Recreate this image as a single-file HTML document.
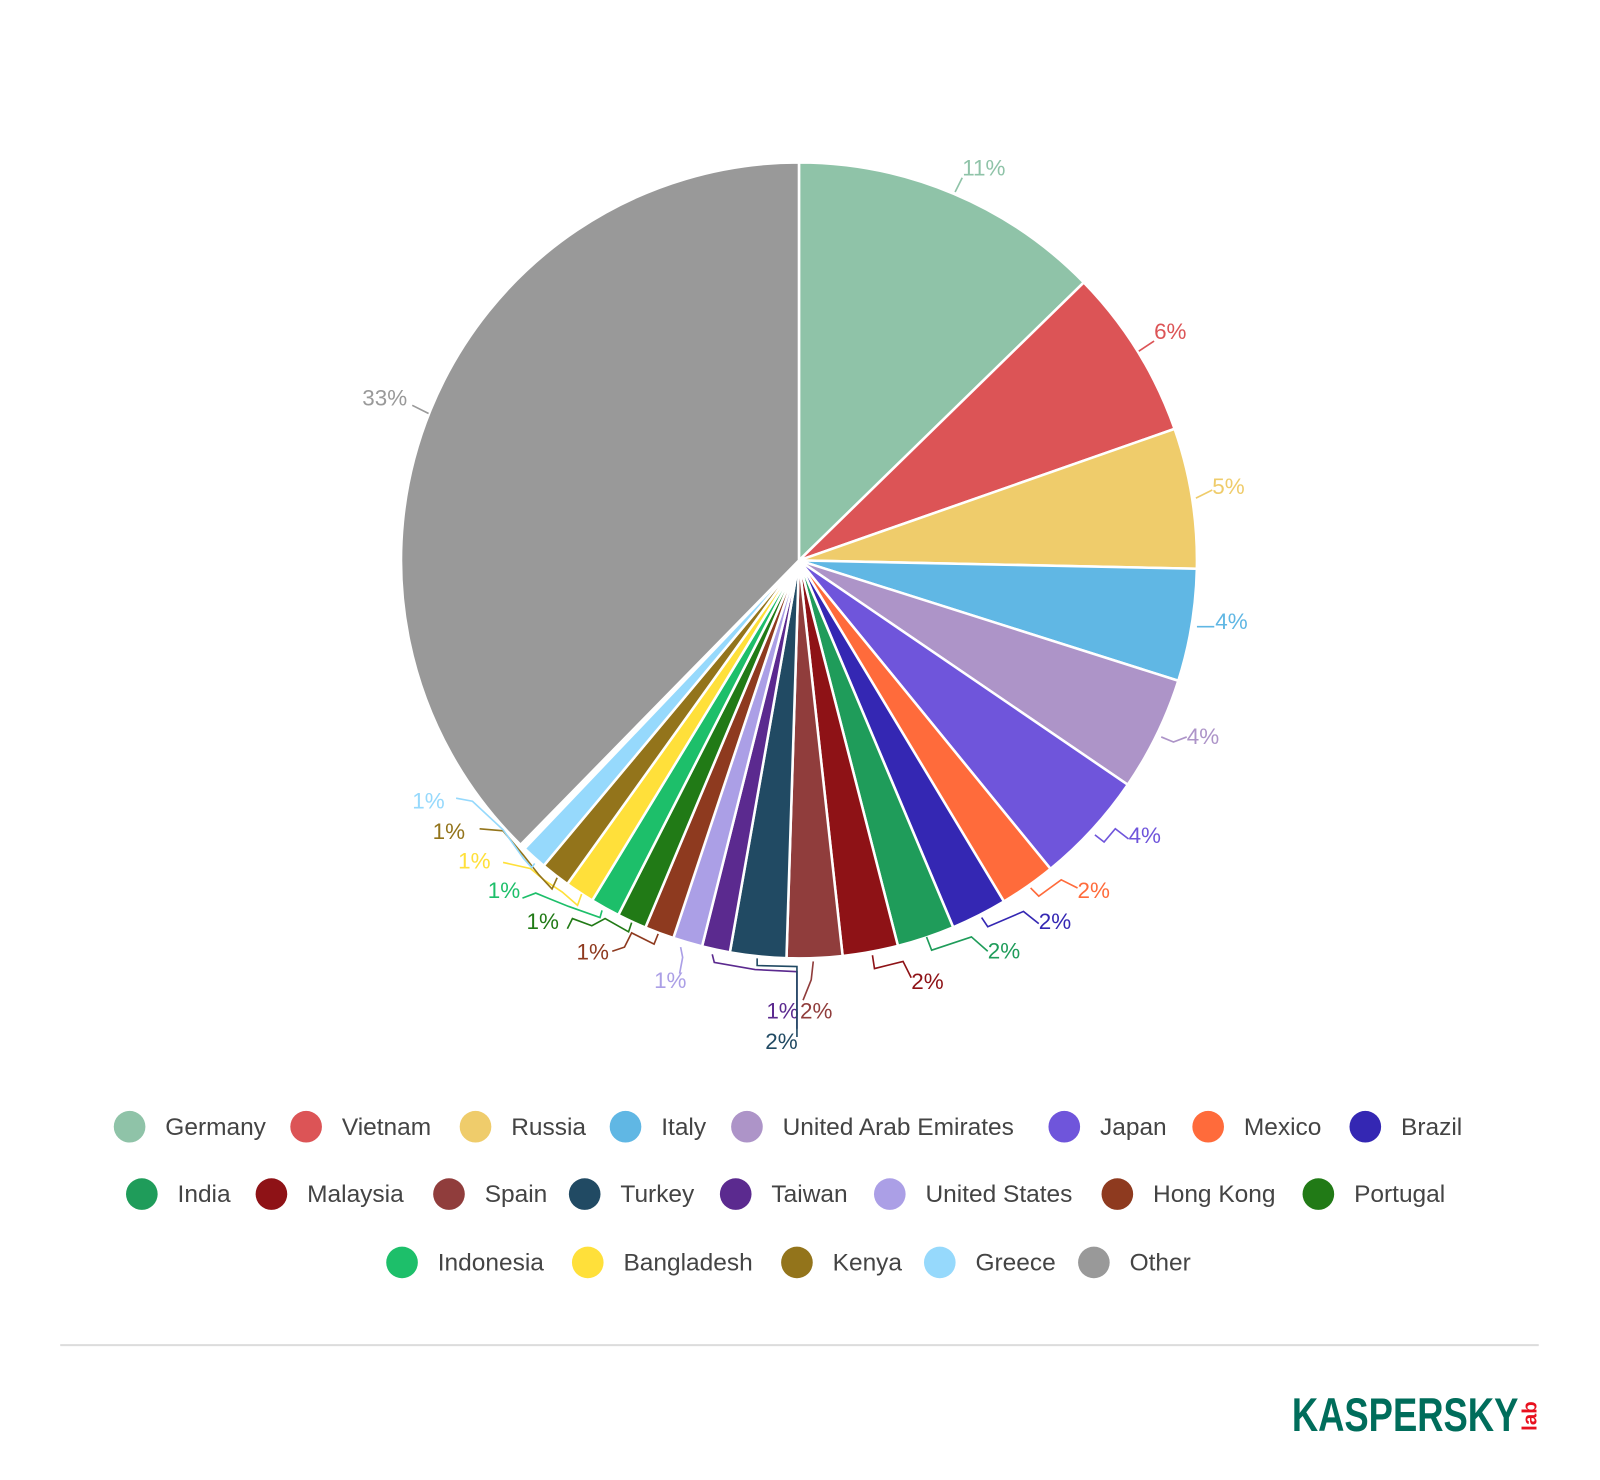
<!DOCTYPE html>
<html><head><meta charset="utf-8">
<style>html,body{margin:0;padding:0;background:#fff}svg{display:block}</style>
</head><body>
<svg id="s" width="1600" height="1480" viewBox="0 0 1568 1450" xmlns="http://www.w3.org/2000/svg" font-family="'Liberation Sans', sans-serif">
<g id="pie"></g>
<g id="lbl" font-size="22"></g>
<g id="leg" font-size="24" fill="#444"></g>
<line x1="59" y1="1318" x2="1508" y2="1318" stroke="#dcdcdc" stroke-width="2"/>
<text x="1266" y="1402" font-size="46" font-weight="bold" fill="#006d5b" textLength="222" lengthAdjust="spacingAndGlyphs">KASPERSKY</text>
<text transform="translate(1506,1402) rotate(-90)" font-size="20" font-weight="bold" fill="#e8101e">lab</text>
</svg>
<script>
var cx=783,cy=549,r=390;
var S=[["Germany","#8fc3a8",0,45.7],["Vietnam","#dc5456",45.7,70.7],["Russia","#efcc6b",70.7,91.2],["Italy","#60b7e4",91.2,107.6],["United Arab Emirates","#ad94c8",107.6,124.3],["Japan","#6f55db",124.3,140.8],["Mexico","#ff6b3b",140.8,149],["Brazil","#3427b3",149,157.2],["India","#1f9c5a",157.2,165.6],["Malaysia","#8e1216",165.6,173.7],["Spain","#903d3c",173.7,181.8],["Turkey","#214a63",181.8,190],["Taiwan","#5b2a8f",190,194.1],["United States","#ab9fe6",194.1,198.4],["Hong Kong","#8e3a1f",198.4,202.7],["Portugal","#217a16",202.7,207],["Indonesia","#1dbf6a",207,211.3],["Bangladesh","#ffe03a",211.3,215.6],["Kenya","#93741b",215.6,219.9],["Greece","#96d9fc",219.9,223.6],["Other","#999999",224.4,360]];
function P(a,rr){a=a*Math.PI/180;return [cx+rr*Math.sin(a),cy-rr*Math.cos(a)];}
var ns="http://www.w3.org/2000/svg",pie=document.getElementById("pie");
S.forEach(function(s){var a=P(s[2],r),b=P(s[3],r),l=(s[3]-s[2])>180?1:0;
var p=document.createElementNS(ns,"path");p.setAttribute("d","M"+cx+","+cy+"L"+a[0]+","+a[1]+"A"+r+","+r+" 0 "+l+" 1 "+b[0]+","+b[1]+"Z");
p.setAttribute("fill",s[1]);p.setAttribute("stroke","#fff");p.setAttribute("stroke-width","2.5");p.setAttribute("stroke-linejoin","round");pie.appendChild(p);});
var L=[[0,"11%",943,172,[[936,188],[943,174]]],[1,"6%",1131,332,[[1116,344],[1131,334]]],[2,"5%",1188,484,[[1172,488],[1188,480]]],[3,"4%",1191,616,[[1173,614],[1190,614]]],
[4,"4%",1163,729,[[1138,722],[1150,727],[1163,722]]],[5,"4%",1106,826,[[1073,818],[1082,825],[1093,812],[1106,822]]],[6,"2%",1056,880,[[1010,870],[1018,878],[1040,862],[1056,870]]],
[7,"2%",1018,910,[[962,899],[968,908],[1003,893],[1018,905]]],[8,"2%",968,939,[[908,918],[913,931],[952,918],[968,932]]],[9,"2%",893,969,[[855,936],[857,949],[885,942],[893,958]]],
[10,"2%",784,998,[[797,942],[795,960],[787,980]]],[12,"1%",751,998,[[698,935],[700,943],[740,950],[781,952],[781,1008]]],[11,"2%",750,1028,[[742,939],[742,946],[781,947],[781,1016]]],
[13,"1%",641,968,[[667,928],[669,938],[666,954]]],[14,"1%",565,940,[[645,915],[641,925],[619,914],[612,928],[600,932]]],[15,"1%",516,910,[[619,904],[616,913],[593,900],[580,907],[561,900],[556,910]]],
[16,"1%",478,880,[[590,892],[588,899],[557,888],[537,880],[525,875],[512,880]]],[17,"1%",449,851,[[570,876],[566,887],[551,874],[533,862],[520,851],[493,845]]],
[18,"1%",424,822,[[546,860],[541,871],[528,857],[513,838],[493,814],[470,812]]],[19,"1%",404,792,[[524,846],[521,850],[513,841],[493,813],[463,785],[447,782]]],[20,"33%",355,397,[[420,405],[404,397]]]];
var lg=document.getElementById("lbl");
L.forEach(function(x){var c=S[x[0]][1];var pl=document.createElementNS(ns,"polyline");pl.setAttribute("points",x[4].map(function(p){return p.join(",")}).join(" "));
pl.setAttribute("fill","none");pl.setAttribute("stroke",c);pl.setAttribute("stroke-width","1.6");lg.appendChild(pl);
var t=document.createElementNS(ns,"text");t.setAttribute("x",x[2]);t.setAttribute("y",x[3]);t.setAttribute("fill",c);t.textContent=x[1];lg.appendChild(t);});
var G=[[0,127,162,1104],[1,300,335,1104],[2,466,501,1104],[3,613,648,1104],[4,732,767,1104],[5,1043,1078,1104],[6,1184,1219,1104],[7,1338,1373,1104],
[8,139,174,1170],[9,266,301,1170],[10,440,475,1170],[11,573,608,1170],[12,721,756,1170],[13,872,907,1170],[14,1095,1130,1170],[15,1292,1327,1170],
[16,394,429,1237],[17,576,611,1237],[18,781,816,1237],[19,921,956,1237],[20,1072,1107,1237]];
var lgd=document.getElementById("leg");
G.forEach(function(g){var c=document.createElementNS(ns,"circle");c.setAttribute("cx",g[1]);c.setAttribute("cy",g[3]);c.setAttribute("r",15.5);c.setAttribute("fill",S[g[0]][1]);lgd.appendChild(c);
var t=document.createElementNS(ns,"text");t.setAttribute("x",g[2]);t.setAttribute("y",g[3]+8);t.textContent=S[g[0]][0];lgd.appendChild(t);});
</script>
</body></html>
